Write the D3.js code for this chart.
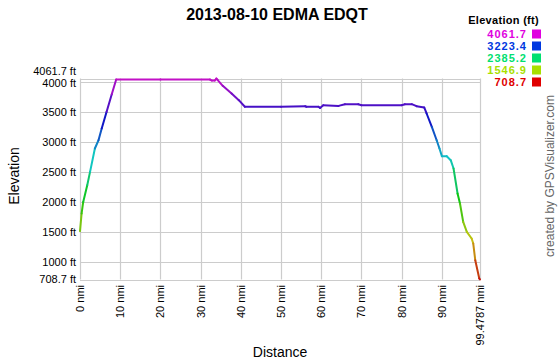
<!DOCTYPE html>
<html><head><meta charset="utf-8">
<script src="https://cdn.jsdelivr.net/npm/d3@7"></script>
<style>
body{margin:0;background:#fff;}
text{font-family:"Liberation Sans",Arial,sans-serif;}
</style></head>
<body><svg id="c" width="560" height="360"></svg>
<script>
const title = "2013-08-10 EDMA EDQT";
const dist = [0, 0.4, 0.8, 1.8, 2.5, 3.7, 4.6, 5.4, 6.6, 7.9, 9.0, 20, 32.3, 32.8, 33.5, 33.9, 34.2, 35.5, 37.7, 39.5, 41.0, 50, 56, 56.3, 59.3, 59.7, 60.5, 64.3, 65.9, 69.2, 70.0, 80.0, 80.8, 82.5, 83.7, 85.6, 86.2, 87.5, 88.7, 89.4, 90.0, 91.2, 92.2, 92.9, 93.9, 94.5, 95.3, 96.2, 97.4, 97.8, 98.3, 99.3, 99.4787];
const elev = [1515, 1810, 2003, 2282, 2504, 2894, 3032, 3228, 3502, 3799, 4045, 4045, 4045, 4028, 4028, 4061.7, 4040, 3940, 3811, 3700, 3590, 3590, 3598, 3590, 3590, 3571, 3616, 3605, 3633, 3633, 3616, 3616, 3633, 3633, 3600, 3578, 3478, 3254, 3032, 2894, 2766, 2766, 2699, 2560, 2143, 1977, 1670, 1503, 1393, 1309, 1031, 725, 708.7];
const xTicks = [0, 10, 20, 30, 40, 50, 60, 70, 80, 90, 99.4787];
const yTicks = [708.7, 1000, 1500, 2000, 2500, 3000, 3500, 4000, 4061.7];
const legendVals = [4061.7, 3223.4, 2385.2, 1546.9, 708.7];

const svg = d3.select("#c");
svg.append("rect").attr("width",560).attr("height",360).attr("fill","#fff");
const x = d3.scaleLinear().domain([0, 99.4787]).range([80, 480]);
const y = d3.scaleLinear().domain([708.7, 4061.7]).range([279.5, 78.5]);
const hue = d3.scaleLinear().domain([708.7, 4061.7]).range([0, 300]);
const lineCol = e => d3.hsl(hue(e), 0.85, 0.42).toString();
const legCol = e => d3.hsl(hue(e), 1, 0.44).toString();

// grid
const g = svg.append("g");
g.selectAll(".vg").data(xTicks).enter().append("line")
  .attr("x1", d=>Math.round(x(d))+0.5).attr("x2", d=>Math.round(x(d))+0.5)
  .attr("y1", y(4061.7)).attr("y2", y(708.7))
  .attr("stroke","#cccccc").attr("stroke-width",1.2);
g.selectAll(".hg").data(yTicks).enter().append("line")
  .attr("x1", 80).attr("x2", 480)
  .attr("y1", d=>Math.round(y(d))+0.5).attr("y2", d=>Math.round(y(d))+0.5)
  .attr("stroke","#cccccc").attr("stroke-width",1.2);

// y labels
svg.selectAll(".yl").data(yTicks).enter().append("text")
  .attr("x", 76).attr("y", d => y(d) + (d===4061.7 ? -7 : (d===4000 ? 1 : 0)))
  .attr("dy","0.35em").attr("text-anchor","end")
  .attr("font-size",11).attr("fill","#000")
  .text(d => d + " ft");

// x labels
svg.selectAll(".xl").data(xTicks).enter().append("text")
  .attr("transform", d => `translate(${x(d)+4},285) rotate(-90)`)
  .attr("text-anchor","end").attr("font-size",11).attr("fill","#000")
  .text(d => d + " nmi");

// profile segments
const pts = dist.map((d,i)=>[d, elev[i]]);
for (let i=0;i<pts.length-1;i++){
  const a=pts[i], b=pts[i+1];
  svg.append("line")
    .attr("x1", x(a[0])).attr("y1", y(a[1]))
    .attr("x2", x(b[0])).attr("y2", y(b[1]))
    .attr("stroke", lineCol((a[1]+b[1])/2))
    .attr("stroke-width", 2).attr("stroke-linecap","round");
}

// title
svg.append("text").attr("x",277).attr("y",20).attr("text-anchor","middle")
  .attr("font-size",16).attr("font-weight","bold").text(title);

// axis titles
svg.append("text").attr("x",280).attr("y",357).attr("text-anchor","middle")
  .attr("font-size",14).text("Distance");
svg.append("text").attr("transform","translate(19,176) rotate(-90)")
  .attr("text-anchor","middle").attr("font-size",14).text("Elevation");

// credit
svg.append("text").attr("transform","translate(554,176) rotate(-90)")
  .attr("text-anchor","middle").attr("font-size",12).attr("fill","#666")
  .text("created by GPSVisualizer.com");

// legend
svg.append("text").attr("x",539).attr("y",24).attr("text-anchor","end")
  .attr("font-size",11).attr("font-weight","bold").attr("letter-spacing",0.3).text("Elevation (ft)");
const lg = svg.selectAll(".lg").data(legendVals).enter().append("g")
  .attr("transform",(d,i)=>`translate(0,${34 + i*12})`);
lg.append("text").attr("x",527).attr("dy","0.35em").attr("text-anchor","end")
  .attr("font-size",11).attr("letter-spacing",1).attr("font-weight","bold").attr("fill", d=>legCol(d)).text(d=>d.toFixed(1));
lg.append("rect").attr("x",532).attr("y",-4.5).attr("width",9).attr("height",9).attr("fill",d=>legCol(d));
</script></body></html>
